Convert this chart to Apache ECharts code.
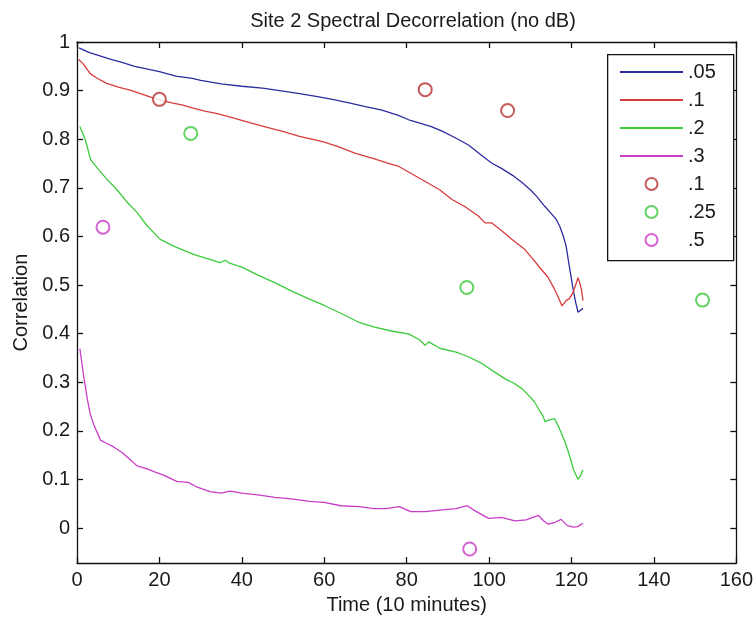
<!DOCTYPE html>
<html>
<head>
<meta charset="utf-8">
<script src="https://cdn.jsdelivr.net/npm/echarts@6/dist/echarts.min.js"></script>
<style>html,body{margin:0;padding:0;background:#fff;}#c{width:756px;height:620px;}</style>
</head>
<body>
<div id="c"></div>
<script>
var titleText = 'Site 2 Spectral Decorrelation (no dB)';
var xName = 'Time (10 minutes)';
var yName = 'Correlation';
var yTicks = [0, 0.1, 0.2, 0.3, 0.4, 0.5, 0.6, 0.7, 0.8, 0.9, 1];

var blueX = [0.5, 3, 5, 8, 10.5, 14, 17.7, 20, 24, 28, 30, 35, 40, 45, 50, 54, 58, 62, 66, 70, 74, 78, 80.5, 84, 86, 89, 92, 95, 98, 100.6, 103, 106, 108, 110, 111.5, 113.5, 115, 116.3, 117.2, 118, 118.7, 119.2, 119.8, 120.4, 121, 121.6, 122.2, 122.8];
var blueY = [0.988, 0.978, 0.973, 0.965, 0.959, 0.950, 0.943, 0.939, 0.930, 0.925, 0.921, 0.914, 0.909, 0.905, 0.899, 0.894, 0.888, 0.882, 0.875, 0.867, 0.860, 0.849, 0.840, 0.831, 0.826, 0.815, 0.802, 0.788, 0.768, 0.751, 0.740, 0.724, 0.711, 0.696, 0.683, 0.662, 0.648, 0.635, 0.620, 0.601, 0.580, 0.553, 0.522, 0.491, 0.465, 0.444, 0.448, 0.452];

var redX = [0.4, 1.5, 3.2, 5, 7.2, 10, 12.9, 17.7, 20.1, 23, 25.7, 28.2, 31, 33.8, 37, 41.9, 45, 49.9, 54, 59.6, 63, 67.6, 72, 75, 78.1, 81, 84.5, 88, 91, 94, 97.4, 99, 100.6, 103, 105.5, 108.7, 110.5, 112.7, 114.3, 115.9, 116.8, 117.7, 118.7, 119.5, 120.4, 121.0, 121.6, 122.0, 122.4, 122.8];
var redY = [0.964, 0.955, 0.935, 0.925, 0.915, 0.907, 0.901, 0.887, 0.881, 0.875, 0.870, 0.864, 0.858, 0.853, 0.846, 0.834, 0.827, 0.816, 0.806, 0.795, 0.786, 0.771, 0.760, 0.752, 0.744, 0.730, 0.713, 0.696, 0.676, 0.662, 0.642, 0.628, 0.628, 0.612, 0.594, 0.573, 0.555, 0.532, 0.516, 0.491, 0.475, 0.457, 0.468, 0.472, 0.485, 0.500, 0.515, 0.505, 0.491, 0.468];

var greenX = [0.7, 2, 3.3, 5, 7, 9.7, 12, 14.6, 17, 20.2, 24, 28.3, 31, 34.7, 36, 37, 40, 44.3, 48, 52, 56.4, 60, 64, 68.5, 72, 76, 80.6, 83, 84.5, 85.4, 88, 92, 95.1, 98, 101, 103.9, 106, 108, 109.6, 111, 112, 113, 113.6, 114.5, 115.9, 116.8, 118.4, 119.5, 120.5, 121.6, 122.2, 122.8];
var greenY = [0.826, 0.800, 0.758, 0.740, 0.720, 0.696, 0.672, 0.649, 0.622, 0.594, 0.578, 0.563, 0.556, 0.546, 0.551, 0.545, 0.537, 0.519, 0.505, 0.488, 0.471, 0.458, 0.442, 0.423, 0.414, 0.406, 0.399, 0.388, 0.376, 0.383, 0.370, 0.362, 0.352, 0.340, 0.323, 0.307, 0.298, 0.287, 0.273, 0.260, 0.245, 0.232, 0.219, 0.222, 0.225, 0.210, 0.178, 0.150, 0.120, 0.100, 0.108, 0.120];

var magX = [0.7, 1.5, 2.5, 3.2, 4.1, 5.7, 7, 8.9, 11, 13, 14.6, 17, 19, 21, 24.2, 27, 29, 32.3, 35, 37.1, 40, 44.3, 48, 52, 56.4, 60, 64, 68.5, 72, 75, 78.2, 81, 84.6, 88, 92, 94.7, 96.5, 99.9, 103, 106.3, 109, 112, 113.2, 114.4, 116, 117.5, 119, 120.5, 121.5, 122.8];
var magY = [0.369, 0.320, 0.266, 0.235, 0.212, 0.181, 0.175, 0.167, 0.155, 0.140, 0.128, 0.122, 0.115, 0.109, 0.096, 0.094, 0.085, 0.075, 0.072, 0.076, 0.072, 0.068, 0.063, 0.060, 0.055, 0.053, 0.046, 0.044, 0.040, 0.040, 0.044, 0.034, 0.034, 0.037, 0.040, 0.046, 0.036, 0.020, 0.022, 0.015, 0.017, 0.026, 0.015, 0.008, 0.012, 0.018, 0.005, 0.002, 0.003, 0.010];

var circRedX = [20, 84.5, 104.5];
var circRedY = [0.882, 0.902, 0.859];
var circGreenX = [27.6, 94.6, 151.8];
var circGreenY = [0.812, 0.495, 0.469];
var circMagX = [6.3, 95.3];
var circMagY = [0.619, -0.043];

var lineNames = ['.05', '.1', '.2', '.3'];
var circNames = ['.1 ', '.25', '.5'];

function zip(xs, ys) { return xs.map(function (x, i) { return [x, ys[i]]; }); }

var FONT = 'Liberation Sans, Arial, sans-serif';
var chart = echarts.init(document.getElementById('c'), null, {renderer: 'canvas'});

function lineSeries(name, xs, ys, color) {
  return {
    name: name, type: 'line', data: zip(xs, ys), showSymbol: false, symbol: 'none',
    lineStyle: {color: color, width: 1.3}, itemStyle: {color: color}, animation: false, z: 3
  };
}
function circSeries(name, xs, ys, color) {
  return {
    name: name, type: 'scatter', data: zip(xs, ys), symbol: 'emptyCircle', symbolSize: 13,
    itemStyle: {color: color, borderWidth: 1.2}, animation: false, z: 4
  };
}

var legendData = lineNames.map(function (n) {
  return {name: n, itemStyle: {opacity: 0}};
}).concat(circNames.map(function (n) { return {name: n}; }));

var axisLine = {show: true, onZero: false, lineStyle: {color: '#111', width: 1.3}};
var tickIn = {show: true, inside: true, length: 6, lineStyle: {color: '#111', width: 1.3}};

chart.setOption({
  backgroundColor: '#fff',
  animation: false,
  title: {
    text: titleText, left: 408, textAlign: 'center', top: 6,
    textStyle: {fontFamily: FONT, fontSize: 20, fontWeight: 'normal', color: '#1a1a1a'}
  },
  grid: {left: 77, right: 17, top: 42, bottom: 55, containLabel: false},
  legend: {
    orient: 'vertical', left: 619, top: 62, padding: 0, itemGap: 8, z: 20,
    itemWidth: 63, itemHeight: 12,
    textStyle: {fontFamily: FONT, fontSize: 20, lineHeight: 20, color: '#1a1a1a'},
    data: legendData
  },
  graphic: [{
    type: 'rect', left: 607, top: 54, z: 10, silent: true,
    shape: {x: 0, y: 0, width: 126, height: 206},
    style: {fill: '#fff', stroke: '#111', lineWidth: 1.3}
  }],
  xAxis: [{
    type: 'value', min: 0, max: 160, interval: 20, position: 'bottom',
    name: xName, nameLocation: 'middle', nameGap: 31,
    nameTextStyle: {fontFamily: FONT, fontSize: 20, color: '#1a1a1a'},
    axisLine: axisLine, axisTick: tickIn, splitLine: {show: false},
    axisLabel: {fontFamily: FONT, fontSize: 20, color: '#1a1a1a', margin: 7}
  }, {
    type: 'value', min: 0, max: 160, interval: 20, position: 'top',
    axisLine: axisLine, axisTick: tickIn, splitLine: {show: false}, axisLabel: {show: false}
  }],
  yAxis: [{
    type: 'value', min: -0.072, max: 1, position: 'left',
    name: yName, nameLocation: 'middle', nameGap: 46, nameRotate: 90,
    nameTextStyle: {fontFamily: FONT, fontSize: 20, color: '#1a1a1a'},
    axisLine: axisLine,
    axisTick: {show: true, inside: true, length: 6, lineStyle: {color: '#111', width: 1.3}, customValues: yTicks},
    splitLine: {show: false},
    axisLabel: {fontFamily: FONT, fontSize: 20, color: '#1a1a1a', margin: 7, customValues: yTicks,
      formatter: function (v) { return (v === 0 || v === 1) ? String(v) : v.toFixed(1); }}
  }, {
    type: 'value', min: -0.072, max: 1, position: 'right',
    axisLine: axisLine,
    axisTick: {show: true, inside: true, length: 6, lineStyle: {color: '#111', width: 1.3}, customValues: yTicks},
    splitLine: {show: false}, axisLabel: {show: false}
  }],
  series: [
    lineSeries(lineNames[0], blueX, blueY, '#2c2ca0'),
    lineSeries(lineNames[1], redX, redY, '#d83c3c'),
    lineSeries(lineNames[2], greenX, greenY, '#3ccc3c'),
    lineSeries(lineNames[3], magX, magY, '#c83cc8'),
    circSeries(circNames[0], circRedX, circRedY, '#b83232'),
    circSeries(circNames[1], circGreenX, circGreenY, '#3cc83c'),
    circSeries(circNames[2], circMagX, circMagY, '#c83cc8')
  ]
});
</script>
</body>
</html>
